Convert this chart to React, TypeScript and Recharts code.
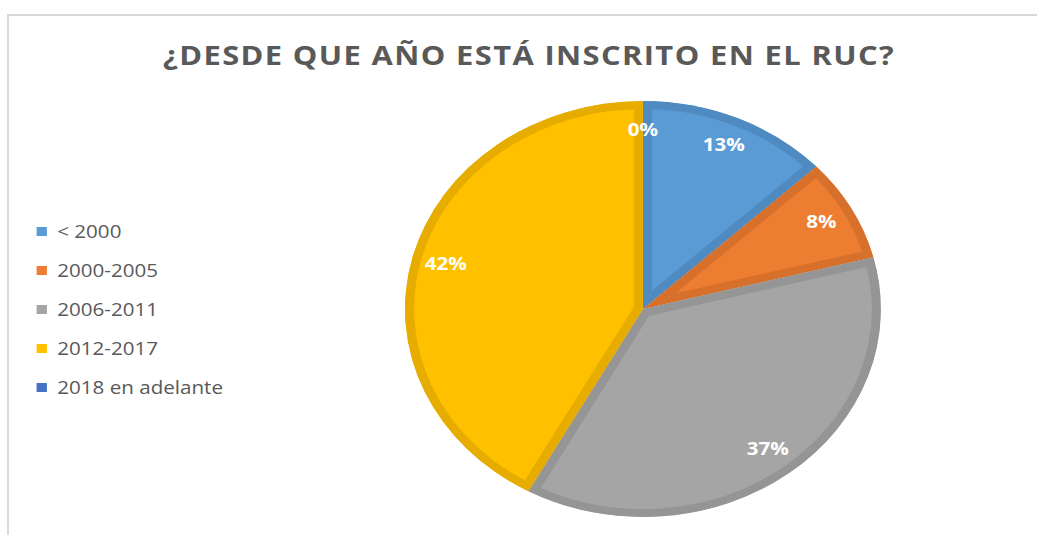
import React from "react";
import { PieChart, Pie, Cell, Legend, Sector } from "recharts";

const categories = ["< 2000", "2000-2005", "2006-2011", "2012-2017", "2018 en adelante"];
const values = [13, 8, 37, 42, 0];
const FILLS = ["#5B9BD5", "#ED7D31", "#A5A5A5", "#FFC000", "#4472C4"];
const STROKES = ["#4F8AC0", "#D6702B", "#959595", "#E6AC00", "#3B64AE"];
const TITLE = "¿DESDE QUE AÑO ESTÁ INSCRITO EN EL RUC?";

const data = categories.map((name, i) => ({ name, value: values[i] }));

const SX = 1.144;
const W = Math.round(1037 / SX);
const H = 535;
const RADIAN = Math.PI / 180;

const renderShape = (props: any) => {
  const idx = props.index ?? data.findIndex((d) => d.name === props.name);
  const id = `clip-slice-${idx}`;
  const { cx, cy, innerRadius, outerRadius, startAngle, endAngle } = props;
  return (
    <g>
      <defs>
        <clipPath id={id}>
          <Sector cx={cx} cy={cy} innerRadius={innerRadius} outerRadius={outerRadius} startAngle={startAngle} endAngle={endAngle} />
        </clipPath>
      </defs>
      <g clipPath={`url(#${id})`}>
        <Sector
          cx={cx}
          cy={cy}
          innerRadius={innerRadius}
          outerRadius={outerRadius}
          startAngle={startAngle}
          endAngle={endAngle}
          fill={FILLS[idx]}
          stroke={STROKES[idx]}
          strokeWidth={16}
        />
      </g>
    </g>
  );
};

const renderLabel = (props: any) => {
  const { cx, cy, midAngle, value } = props;
  const r = 178;
  const x = cx + r * Math.cos(-midAngle * RADIAN);
  const y = cy + r * Math.sin(-midAngle * RADIAN);
  return (
    <text
      x={x}
      y={y - 2}
      fill="#FFFFFF"
      textAnchor="middle"
      dominantBaseline="central"
      style={{ fontFamily: "'Open Sans', sans-serif", fontWeight: 700, fontSize: 18 }}
    >
      {`${value}%`}
    </text>
  );
};

const renderLegend = (props: any) => {
  const payload = [...(props.payload || [])].sort(
    (a: any, b: any) => categories.indexOf(a.value) - categories.indexOf(b.value)
  );
  return (
    <div style={{ fontFamily: "'Open Sans', sans-serif", fontSize: 18, color: "#595959" }}>
      {payload.map((entry: any, i: number) => (
        <div key={i} style={{ height: 39, lineHeight: "39px", display: "flex", alignItems: "center", whiteSpace: "nowrap" }}>
          <span style={{ display: "inline-block", width: 9, height: 9, background: entry.color, marginRight: 9 }} />
          <span>{entry.value}</span>
        </div>
      ))}
    </div>
  );
};

export default function App() {
  return (
    <div style={{ position: "absolute", left: 0, top: 0, width: 1037, height: 535, background: "#FFFFFF", overflow: "hidden" }}>
      <div
        style={{
          position: "absolute",
          left: 7,
          top: 14,
          width: 1100,
          height: 600,
          borderLeft: "2px solid #D9D9D9",
          borderTop: "2px solid #D9D9D9",
        }}
      />
      <div
        style={{
          position: "absolute",
          left: 0,
          top: 0,
          width: W,
          height: H,
          transform: `scaleX(${SX})`,
          transformOrigin: "0 0",
        }}
      >
        <div
          style={{
            position: "absolute",
            left: 0,
            top: 41,
            width: 925,
            textAlign: "center",
            fontFamily: "'Open Sans', sans-serif",
            fontWeight: 700,
            fontSize: 27,
            lineHeight: "27px",
            letterSpacing: 1.2,
            color: "#595959",
            whiteSpace: "nowrap",
          }}
        >
          {TITLE}
        </div>
        <PieChart width={W} height={H} margin={{ top: 0, right: 0, bottom: 0, left: 0 }}>
          <Pie
            data={data}
            dataKey="value"
            nameKey="name"
            cx={562}
            cy={309}
            outerRadius={208}
            startAngle={90}
            endAngle={-270}
            stroke="none"
            shape={renderShape}
            label={renderLabel}
            labelLine={false}
            isAnimationActive={false}
          >
            {data.map((d, i) => (
              <Cell key={d.name} fill={FILLS[i]} />
            ))}
          </Pie>
          <Legend
            layout="vertical"
            align="center"
            verticalAlign="middle"
            content={renderLegend}
            wrapperStyle={{ left: 32, top: 212, width: 200 }}
          />
        </PieChart>
      </div>
    </div>
  );
}
